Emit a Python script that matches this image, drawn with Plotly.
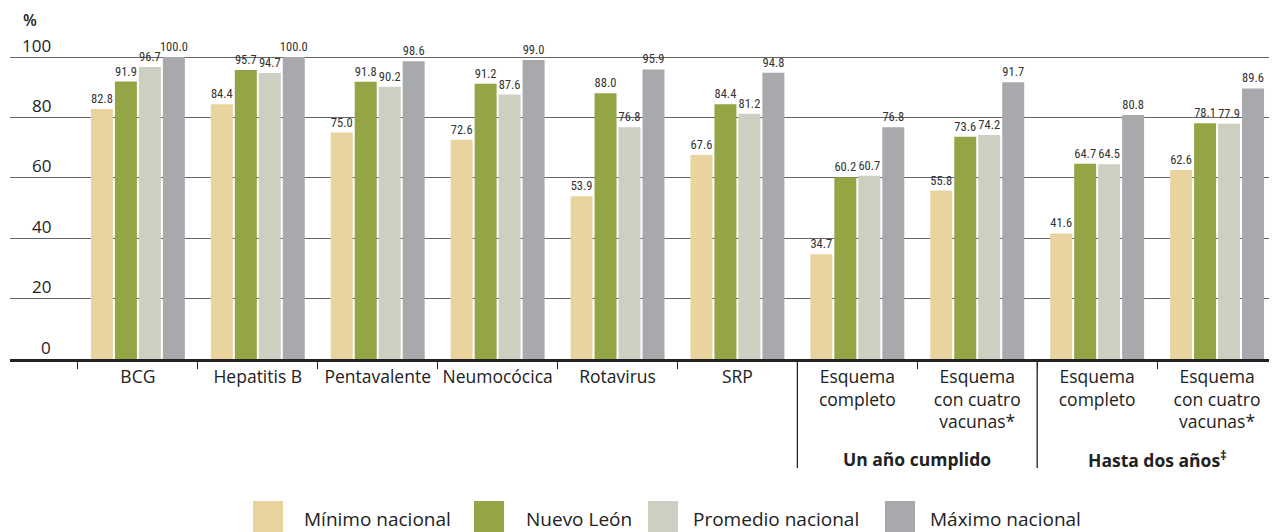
import plotly.graph_objects as go

# categories (inner labels) and their outer grouping
vacunas = ["BCG", "Hepatitis B", "Pentavalente", "Neumocócica", "Rotavirus", "SRP",
           "Esquema<br>completo", "Esquema<br>con cuatro<br>vacunas*",
           "Esquema<br>completo", "Esquema<br>con cuatro<br>vacunas*"]
grupos = ["", "", "", "", "", "",
          "Un año cumplido", "Un año cumplido",
          "Hasta dos años<sup>‡</sup>", "Hasta dos años<sup>‡</sup>"]

minimo = [82.8, 84.4, 75.0, 72.6, 53.9, 67.6, 34.7, 55.8, 41.6, 62.6]
nuevo_leon = [91.9, 95.7, 91.8, 91.2, 88.0, 84.4, 60.2, 73.6, 64.7, 78.1]
promedio = [96.7, 94.7, 90.2, 87.6, 76.8, 81.2, 60.7, 74.2, 64.5, 77.9]
maximo = [100.0, 100.0, 98.6, 99.0, 95.9, 94.8, 76.8, 91.7, 80.8, 89.6]

series = [
    ("Mínimo nacional", minimo, "#E9D39F"),
    ("Nuevo León", nuevo_leon, "#93A544"),
    ("Promedio nacional", promedio, "#CDCFC1"),
    ("Máximo nacional", maximo, "#A8A9AC"),
]
yticks = [0, 20, 40, 60, 80, 100]

keys = [f"{g}|{v}" for g, v in zip(grupos, vacunas)]

# page body has an 8px margin, so the figure starts at (8, 8) of the window
OFF = 8
W, H = 1277 - OFF, 532 - OFF
L, R, T, B = 2, 0, 34, 173
pw, ph = W - L - R, H - T - B


def px_x(x):
    return (x - OFF - L) / pw


def px_y(y):
    return (H - B - (y - OFF)) / ph


FONT = "Open Sans, Noto Sans, sans-serif"
NARROW = "Roboto Condensed, Roboto, sans-serif"

fig = go.Figure()
for name, vals, color in series:
    fig.add_trace(go.Bar(
        x=keys, y=vals, name=name, marker_color=color, marker_line_width=0,
        texttemplate="%{y:.1f}", textposition="outside", constraintext="none",
        textfont=dict(family=NARROW, size=12.5, color="#333"),
        cliponaxis=False, showlegend=False,
    ))

shapes = []
annotations = []

# y tick labels sitting above the gridlines
for t in yticks:
    annotations.append(dict(x=px_x(53), xref="paper", xanchor="right", y=t, yref="y",
                            yanchor="middle", yshift=12, text=str(t), showarrow=False,
                            font=dict(family=FONT, size=17, color="#222")))

annotations.append(dict(x=px_x(22), xref="paper", xanchor="left", y=px_y(OFF), yref="paper",
                        yanchor="top", borderpad=0, text="%", showarrow=False,
                        font=dict(family=FONT, size=16, color="#222", weight=600)))

# group dividers and group titles
seen = []
for i, g in enumerate(grupos):
    if g and g not in seen:
        seen.append(g)
        idx = [j for j, gg in enumerate(grupos) if gg == g]
        shapes.append(dict(type="line", xref="x", yref="paper", x0=idx[0] - 0.5, x1=idx[0] - 0.5,
                           y0=0, y1=px_y(468), line=dict(color="#222", width=1.3)))
        annotations.append(dict(x=sum(idx) / len(idx), xref="x", y=px_y(459), yref="paper",
                                yanchor="middle", text=f"<b>{g}</b>", showarrow=False,
                                font=dict(family=FONT, size=17.5, color="#222")))

# custom legend with large swatches
sw_x = [253, 474, 648, 885]
tx_x = [302, 524, 691, 928]
for (name, _, color), sx, tx in zip(series, sw_x, tx_x):
    shapes.append(dict(type="rect", xref="paper", yref="paper", x0=px_x(sx), x1=px_x(sx + 30),
                       y0=px_y(501), y1=px_y(533), fillcolor=color, line_width=0))
    annotations.append(dict(x=px_x(tx), xref="paper", xanchor="left", y=px_y(519), yref="paper",
                            yanchor="middle", text=name, showarrow=False,
                            font=dict(family=FONT, size=19, color="#222")))

fig.update_layout(
    width=W, height=H,
    margin=dict(l=L, r=R, t=T, b=B),
    plot_bgcolor="white", paper_bgcolor="white",
    barmode="group", bargap=0.2, bargroupgap=0.083,
    font=dict(family=FONT, color="#222"),
    shapes=shapes, annotations=annotations,
    xaxis=dict(
        type="category", range=[-0.5 - 68 / 120, len(keys) - 0.5],
        tickmode="array", tickvals=keys, ticktext=vacunas, tickson="boundaries",
        ticks="outside", ticklen=7, tickwidth=1.3, tickcolor="#222",
        showline=True, linecolor="#222", linewidth=2.5,
        showgrid=False, tickfont=dict(family=FONT, size=17.5, color="#222"),
        tickangle=0,
    ),
    yaxis=dict(
        range=[0, 105], tickvals=yticks, showticklabels=False,
        showgrid=True, gridcolor="#666", gridwidth=1.2, zeroline=False,
    ),
)

fig.write_html("out.html")
